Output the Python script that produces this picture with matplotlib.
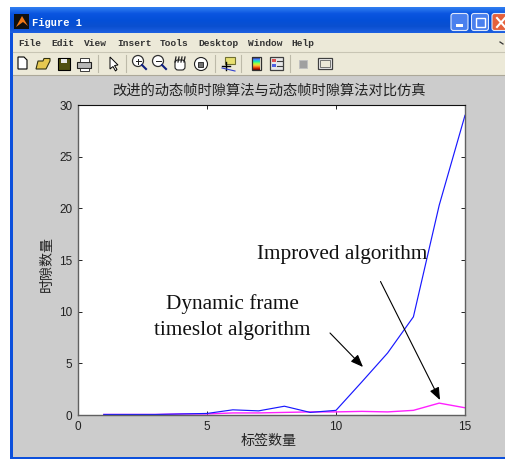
import numpy as np
import matplotlib
matplotlib.use("Agg")
import matplotlib.pyplot as plt
from matplotlib.patches import Rectangle, FancyBboxPatch, Circle, Polygon

x_values = list(range(1, 16))
improved_blue = [0.05, 0.05, 0.05, 0.1, 0.15, 0.5, 0.4, 0.85, 0.25, 0.45, 3.2, 6.0, 9.5, 20.3, 29.0]
dynamic_magenta = [0.05, 0.05, 0.05, 0.1, 0.1, 0.2, 0.2, 0.25, 0.3, 0.3, 0.35, 0.3, 0.45, 1.15, 0.7]
x_ticks = [0, 5, 10, 15]
y_ticks = [0, 5, 10, 15, 20, 25, 30]
title_text = "改进的动态帧时隙算法与动态帧时隙算法对比仿真"
xlabel_text = "标签数量"
ylabel_text = "时隙数量"
menu_items = [("File", 18), ("Edit", 51), ("View", 84), ("Insert", 117), ("Tools", 160),
              ("Desktop", 198), ("Window", 248), ("Help", 291)]

W, H = 505, 459
CJK = ["Noto Sans CJK SC", "DejaVu Sans"]
fig = plt.figure(figsize=(W / 100, H / 100), dpi=100, facecolor="white")

# window chrome, in pixel coordinates
bg = fig.add_axes([0, 0, 1, 1], zorder=0)
bg.set_xlim(0, W); bg.set_ylim(H, 0); bg.axis("off")
grad = np.linspace(0, 1, 26)[:, None]
cmap = matplotlib.colors.LinearSegmentedColormap.from_list(
    "t", ["#2f7df0", "#0a55e0", "#0450d8", "#0a4fd0", "#1c5fe0"])
bg.add_patch(Rectangle((9.5, 10), W, 449, color="#0c50dc", lw=0))
bg.imshow(grad, extent=(9.5, W, 33, 7.5), cmap=cmap, aspect="auto", zorder=1)
bg.set_xlim(0, W); bg.set_ylim(H, 0)
bg.add_patch(Rectangle((13, 33), W, 20, color="#ece9d8", lw=0, zorder=2))
bg.add_patch(Rectangle((13, 53), W, 22, color="#ece9d8", lw=0, zorder=2))
bg.plot([13, W], [52, 52], color="#c8c5b4", lw=0.8, zorder=3)
bg.plot([13, W], [74.5, 74.5], color="#aca899", lw=0.8, zorder=3)
bg.add_patch(Rectangle((13, 75), W, 382, color="#cccccc", lw=0, zorder=2))
# title bar contents
bg.add_patch(Rectangle((14, 14), 15, 15, color="#101010", lw=0, zorder=3))
bg.add_patch(Polygon([[16, 27], [22, 16], [28, 26], [23, 22]], color="#f07818", lw=0, zorder=4))
bg.text(32, 22.5, "Figure 1", color="white", fontsize=7.5, family="Liberation Mono",
        weight="bold", va="center", zorder=5)
for bx, col in [(451, "#4a80ee"), (471.5, "#4a80ee"), (492, "#e5613c")]:
    bg.add_patch(FancyBboxPatch((bx, 13.5), 17, 17, boxstyle="round,pad=0,rounding_size=2.5",
                                fc=col, ec="#dfe8fb", lw=0.8, zorder=4))
bg.add_patch(Rectangle((456, 24), 7, 2.5, color="white", lw=0, zorder=5))
bg.add_patch(Rectangle((476, 18), 9, 9, fc="none", ec="white", lw=1, zorder=5))
bg.plot([497, 505], [18, 27], color="white", lw=1.5, zorder=5)
bg.plot([497, 505], [27, 18], color="white", lw=1.5, zorder=5)
# menu
for name, mx in menu_items:
    bg.text(mx, 43.5, name, fontsize=6.8, family="Liberation Mono", weight="bold",
            color="#333333", va="center", zorder=5)
bg.plot([500, 503], [42, 44], color="#333333", lw=0.9, zorder=5)
# toolbar icons
ic = dict(zorder=5)
bg.add_patch(Polygon([[18, 57], [24, 57], [27, 60], [27, 69], [18, 69]], fc="white", ec="black", lw=0.8, **ic))
bg.add_patch(Polygon([[36, 69], [38, 61], [43, 61], [44, 58.5], [50, 58.5], [50, 61], [46, 69]], fc="#e6c850", ec="#303010", lw=0.8, **ic))
bg.add_patch(Rectangle((57.5, 58), 12, 12, fc="#505010", ec="black", lw=0.8, **ic))
bg.add_patch(Rectangle((60.5, 58.5), 6, 4, fc="#e8e8e8", lw=0, **ic))
bg.add_patch(Rectangle((77, 62), 13.5, 6, fc="#b8b8b8", ec="#202020", lw=0.8, **ic))
bg.add_patch(Rectangle((80, 57.5), 9, 4.5, fc="white", ec="#202020", lw=0.6, **ic))
bg.add_patch(Rectangle((80, 68), 9, 2.5, fc="white", ec="#202020", lw=0.6, **ic))
bg.add_patch(Polygon([[110, 57], [110, 69], [113, 66.5], [115.5, 71], [117, 69.5], [114.5, 65.5], [118, 65]], fc="white", ec="black", lw=0.7, **ic))
for cx, cy in [(138, 61), (158, 61)]:
    bg.add_patch(Circle((cx, cy), 5.5, fc="white", ec="#303030", lw=0.9, **ic))
    bg.plot([cx + 4, cx + 8], [cy + 4, cy + 8], color="#102080", lw=1.5, **ic)
    bg.plot([cx - 2.5, cx + 2.5], [cy, cy], color="#202020", lw=0.7, **ic)
bg.plot([138, 138], [58.5, 63.5], color="#202020", lw=0.7, **ic)
bg.add_patch(FancyBboxPatch((175, 60), 10, 10, boxstyle="round,pad=0,rounding_size=3", fc="white", ec="#202020", lw=0.8, **ic))
for hx in (175, 178, 181, 184):
    bg.plot([hx, hx + 1], [62, 57], color="#202020", lw=0.9, **ic)
bg.add_patch(Circle((201, 64), 6.5, fc="white", ec="#202020", lw=0.8, **ic))
bg.add_patch(Rectangle((198, 61.5), 5, 5, fc="#707070", ec="#202020", lw=0.6, **ic))
bg.add_patch(Rectangle((225, 56.5), 10, 7, fc="#e8e070", ec="#707030", lw=0.8, **ic))
bg.plot([222, 230], [66, 66], color="black", lw=1, **ic)
bg.plot([226, 226], [62, 70], color="black", lw=1, **ic)
bg.plot([222, 235], [68, 71], color="#3040d0", lw=0.8, **ic)
cb = np.linspace(0, 1, 20)[:, None]
bg.imshow(cb, extent=(252, 260, 70, 57), cmap="turbo", aspect="auto", zorder=5)
bg.add_patch(Rectangle((251.5, 56.5), 9, 13.5, fc="none", ec="#303030", lw=0.9, zorder=6))
bg.add_patch(Rectangle((270, 57), 13, 12.5, fc="#e8e8e8", ec="#404040", lw=0.9, **ic))
bg.add_patch(Rectangle((272, 59), 4, 3, fc="#e05050", lw=0, **ic))
bg.add_patch(Rectangle((272, 64), 4, 3, fc="#5060e0", lw=0, **ic))
bg.plot([277, 282], [60.5, 60.5], color="#404040", lw=0.8, **ic)
bg.plot([277, 282], [65.5, 65.5], color="#404040", lw=0.8, **ic)
bg.add_patch(Rectangle((299, 59.5), 8, 8, fc="#a0a0a0", ec="#c0c0c0", lw=0.6, **ic))
bg.add_patch(Rectangle((318, 57.5), 13.5, 11.5, fc="#f4f4f4", ec="#404040", lw=0.9, **ic))
bg.add_patch(Rectangle((320, 60), 9.5, 7, fc="#ece9d8", ec="#606060", lw=0.6, **ic))
for sx in (98, 125.5, 215, 241, 290):
    bg.plot([sx, sx], [55, 72], color="#bdbaa9", lw=0.8, **ic)

# plot
L, R, T, B = 78, 465, 105, 415
ax = fig.add_axes([L / W, 1 - B / H, (R - L) / W, (B - T) / H], zorder=2, facecolor="white")
ax.plot(x_values, dynamic_magenta, color="#ff20ff", lw=1.0)
ax.plot(x_values, improved_blue, color="#1818ff", lw=0.85)
ax.set_xlim(0, 15); ax.set_ylim(0, 30)
ax.set_xticks(x_ticks); ax.set_yticks(y_ticks)
ax.tick_params(direction="in", length=3.2, width=0.7, top=True, right=True, labelsize=8.5,
               colors="#222222", pad=4)
for t in ax.get_xticklabels() + ax.get_yticklabels():
    t.set_family("Liberation Sans")
for s in ("left", "bottom", "right"):
    ax.spines[s].set_color("#606060"); ax.spines[s].set_linewidth(1.0)
ax.spines["top"].set_color("#101010"); ax.spines["top"].set_linewidth(0.8)

# overlay: titles and annotations
ov = fig.add_axes([0, 0, 1, 1], zorder=3)
ov.set_xlim(0, W); ov.set_ylim(H, 0); ov.axis("off")
ov.text(269, 91, title_text, family=CJK, fontsize=10.3, color="#222222", ha="center", va="center")
ov.text(269, 441, xlabel_text, family=CJK, fontsize=10.1, color="#222222", ha="center", va="center")
ov.text(47, 264, ylabel_text, family=CJK, fontsize=10.1, color="#222222", ha="center", va="center", rotation=90)
ov.text(342, 254, "Improved algorithm", family="Liberation Serif", fontsize=15.3, color="#111111", ha="center", va="center")
ov.text(232, 304, "Dynamic frame", family="Liberation Serif", fontsize=15.3, color="#111111", ha="center", va="center")
ov.text(232, 330, "timeslot algorithm", family="Liberation Serif", fontsize=15.3, color="#111111", ha="center", va="center")
arrow = dict(arrowstyle="-|>,head_length=0.75,head_width=0.3", color="black", lw=0.8, shrinkA=0, shrinkB=0)
ov.annotate("", xy=(363, 367), xytext=(330, 333), arrowprops=arrow)
ov.annotate("", xy=(440, 400), xytext=(380.5, 281.5), arrowprops=arrow)

fig.savefig("out.png", dpi=100)
